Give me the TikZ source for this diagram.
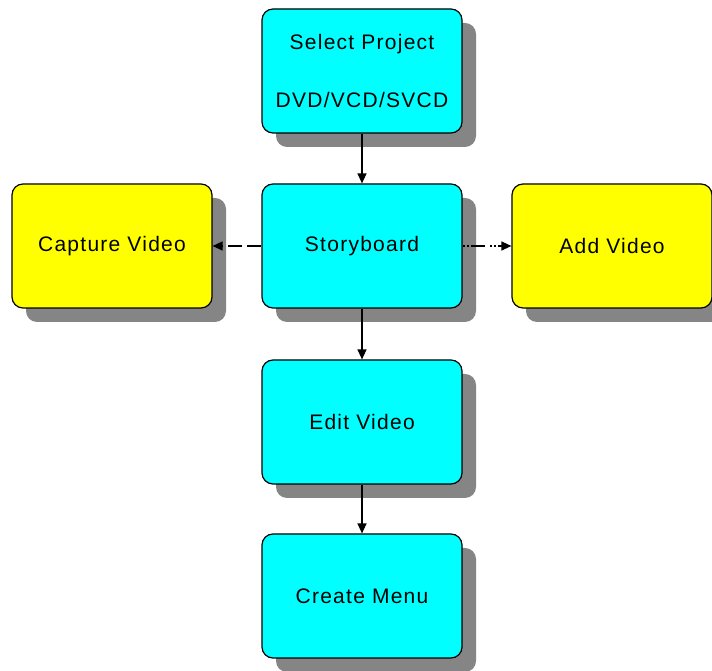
\documentclass[tikz,border=0pt]{standalone}
\usepackage{fontspec}
\setmainfont{Liberation Sans}[LetterSpace=6]
\usetikzlibrary{arrows.meta,shadows}
\definecolor{boxcyan}{RGB}{0,255,255}
\definecolor{boxyellow}{RGB}{255,255,0}
\tikzset{
    stagebox/.style={draw=black, line width=1.2pt, rounded corners=11pt,
        minimum width=200pt, minimum height=124pt, align=center,
        font=\fontsize{21}{25}\selectfont,
        drop shadow={shadow xshift=14pt, shadow yshift=-14pt, fill=black!48, opacity=1}},
    mainbox/.style={stagebox, fill=boxcyan},
    sidebox/.style={stagebox, fill=boxyellow},
    flow/.style={-{Triangle[width=9pt,length=10pt]}, line width=1.3pt},
}
\begin{document}
\begin{tikzpicture}[x=1pt, y=1pt]
    \useasboundingbox[fill=white] (0,0) rectangle (712,671);

    % Main column
    \node[mainbox] (select) at (362, 600) {Select Project\\[33pt]DVD/VCD/SVCD};
    \node[mainbox] (story) at (362, 425) {Storyboard};
    \node[mainbox] (edit) at (362, 249) {Edit Video};
    \node[mainbox] (menu) at (362, 75) {Create Menu};

    % Side boxes
    \node[sidebox] (capture) at (112, 425) {Capture Video};
    \node[sidebox] (add) at (612, 425) {Add Video};

    % Arrows
    \draw[flow] (select) -- (story);
    \draw[flow] (story) -- (edit);
    \draw[flow] (edit) -- (menu);
    \draw[flow, dash pattern=on 14pt off 5pt] (story.west) -- (capture.east);
    \draw[flow, dash pattern=on 2pt off 2pt on 2pt off 2pt on 14pt off 5pt] (story.east) -- (add.west);
\end{tikzpicture}
\end{document}
